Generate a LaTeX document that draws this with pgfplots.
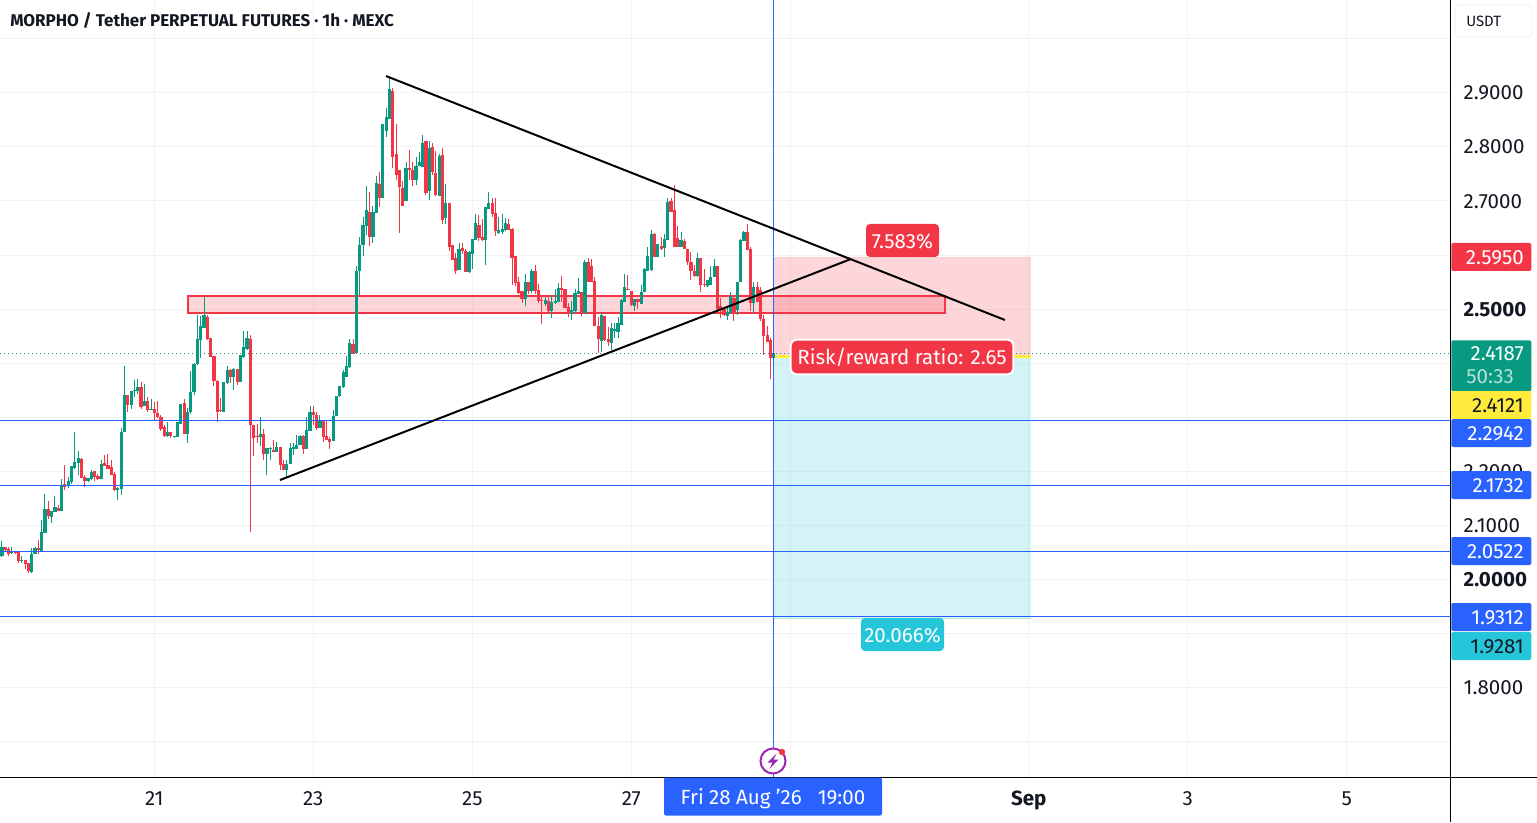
\documentclass[border=0pt]{standalone}
\usepackage{pgfplots}
\usepackage{pgfplotstable}
\pgfplotsset{compat=1.18}
\usepackage{fontspec}
\setmainfont{Fira Sans}
\definecolor{cgreen}{HTML}{089981}
\definecolor{cred}{HTML}{F23645}
\definecolor{cblue}{HTML}{2962FF}
\definecolor{ccyan}{HTML}{26C6DA}
\definecolor{cyell}{HTML}{FFEB3B}
\definecolor{cgrid}{HTML}{F2F3F5}
\definecolor{cpurple}{HTML}{9C27B0}
\definecolor{ctext}{HTML}{131722}
% hour index t = hours since 19 Aug 00:00
\pgfplotstableread{
t o h l c
2 2.043 2.071 2.042 2.060
5 2.049 2.060 2.048 2.053
8 2.034 2.043 2.031 2.036
11 2.014 2.059 2.013 2.048
12 2.048 2.061 2.047 2.058
14 2.052 2.110 2.051 2.088
15 2.086 2.158 2.086 2.130
17 2.116 2.127 2.105 2.127
18 2.125 2.154 2.125 2.134
20 2.127 2.186 2.127 2.175
22 2.173 2.190 2.169 2.183
23 2.181 2.210 2.177 2.210
24 2.206 2.273 2.204 2.217
25 2.216 2.238 2.193 2.225
28 2.182 2.188 2.180 2.188
29 2.186 2.202 2.184 2.199
32 2.186 2.221 2.186 2.214
37 2.165 2.172 2.147 2.169
38 2.167 2.280 2.156 2.273
39 2.272 2.395 2.272 2.341
41 2.323 2.348 2.315 2.348
42 2.348 2.369 2.338 2.351
43 2.349 2.370 2.344 2.356
45 2.321 2.361 2.321 2.331
47 2.315 2.333 2.314 2.316
52 2.266 2.291 2.264 2.272
54 2.264 2.266 2.262 2.266
55 2.264 2.291 2.264 2.291
56 2.288 2.325 2.288 2.325
58 2.270 2.317 2.253 2.309
59 2.309 2.386 2.307 2.347
60 2.346 2.400 2.341 2.399
61 2.399 2.489 2.397 2.444
62 2.443 2.488 2.410 2.469
63 2.466 2.523 2.466 2.490
69 2.310 2.365 2.310 2.365
70 2.363 2.395 2.362 2.388
72 2.374 2.391 2.351 2.389
74 2.366 2.416 2.366 2.415
75 2.412 2.460 2.409 2.430
76 2.427 2.459 2.425 2.447
80 2.264 2.300 2.247 2.269
82 2.233 2.243 2.193 2.243
83 2.241 2.245 2.221 2.243
85 2.235 2.255 2.235 2.245
88 2.202 2.222 2.190 2.214
89 2.214 2.252 2.214 2.243
90 2.242 2.252 2.230 2.245
91 2.242 2.268 2.241 2.249
92 2.249 2.268 2.248 2.265
94 2.242 2.300 2.242 2.277
95 2.275 2.321 2.275 2.310
98 2.280 2.304 2.280 2.294
102 2.256 2.314 2.256 2.302
103 2.302 2.339 2.302 2.339
104 2.339 2.358 2.338 2.358
105 2.356 2.388 2.355 2.383
106 2.375 2.414 2.375 2.395
107 2.393 2.444 2.391 2.438
109 2.418 2.580 2.418 2.570
110 2.570 2.634 2.526 2.619
111 2.619 2.671 2.599 2.655
112 2.654 2.728 2.637 2.683
114 2.634 2.690 2.623 2.680
115 2.678 2.746 2.678 2.733
117 2.706 2.843 2.706 2.843
118 2.830 2.872 2.819 2.855
119 2.852 2.929 2.852 2.906
124 2.699 2.772 2.699 2.761
127 2.739 2.782 2.730 2.765
128 2.764 2.791 2.764 2.772
129 2.762 2.822 2.762 2.807
131 2.719 2.811 2.702 2.798
134 2.710 2.787 2.710 2.783
136 2.669 2.731 2.657 2.696
140 2.572 2.623 2.572 2.611
143 2.569 2.608 2.566 2.606
144 2.602 2.630 2.575 2.630
145 2.628 2.676 2.628 2.659
148 2.628 2.689 2.581 2.689
149 2.685 2.717 2.685 2.696
152 2.640 2.671 2.638 2.646
153 2.643 2.676 2.639 2.648
154 2.646 2.669 2.645 2.660
160 2.518 2.564 2.505 2.551
162 2.533 2.574 2.529 2.571
166 2.509 2.523 2.505 2.516
168 2.496 2.526 2.484 2.513
169 2.512 2.538 2.509 2.515
170 2.513 2.548 2.513 2.539
174 2.491 2.515 2.480 2.498
175 2.497 2.538 2.492 2.529
176 2.528 2.558 2.528 2.533
178 2.492 2.590 2.491 2.588
183 2.441 2.493 2.421 2.489
186 2.438 2.474 2.425 2.465
187 2.460 2.474 2.446 2.463
188 2.458 2.486 2.446 2.474
189 2.470 2.518 2.470 2.516
190 2.513 2.565 2.513 2.541
193 2.505 2.519 2.496 2.519
195 2.510 2.545 2.510 2.532
196 2.531 2.576 2.531 2.574
197 2.571 2.614 2.571 2.598
198 2.573 2.646 2.571 2.639
200 2.597 2.620 2.596 2.620
202 2.613 2.639 2.597 2.629
203 2.628 2.706 2.628 2.698
207 2.615 2.643 2.615 2.627
212 2.562 2.603 2.560 2.594
215 2.542 2.554 2.540 2.553
216 2.545 2.580 2.545 2.560
217 2.560 2.592 2.560 2.579
221 2.487 2.505 2.480 2.495
222 2.493 2.531 2.493 2.525
224 2.499 2.551 2.489 2.551
225 2.551 2.629 2.551 2.628
226 2.626 2.645 2.626 2.643
229 2.511 2.551 2.493 2.540
235 2.409 2.4187 2.409 2.4187
}\upt
\pgfplotstableread{
t o h l c
1 2.076 2.076 2.038 2.040
3 2.060 2.060 2.051 2.054
4 2.057 2.060 2.043 2.048
6 2.051 2.051 2.048 2.049
7 2.051 2.051 2.031 2.034
9 2.036 2.036 2.019 2.028
10 2.030 2.030 2.012 2.015
13 2.058 2.073 2.047 2.054
16 2.130 2.146 2.112 2.117
19 2.133 2.138 2.127 2.127
21 2.177 2.212 2.165 2.172
26 2.223 2.225 2.188 2.188
27 2.189 2.193 2.172 2.182
30 2.200 2.200 2.183 2.189
31 2.191 2.195 2.184 2.186
33 2.215 2.230 2.210 2.210
34 2.211 2.232 2.204 2.204
35 2.208 2.222 2.194 2.194
36 2.195 2.198 2.164 2.165
40 2.341 2.341 2.310 2.323
44 2.356 2.365 2.315 2.319
46 2.331 2.338 2.309 2.314
48 2.315 2.329 2.295 2.308
49 2.308 2.330 2.298 2.300
50 2.301 2.304 2.275 2.278
51 2.282 2.286 2.264 2.266
53 2.272 2.272 2.261 2.266
57 2.326 2.333 2.270 2.270
64 2.486 2.490 2.443 2.444
65 2.446 2.447 2.412 2.412
66 2.414 2.414 2.357 2.367
67 2.367 2.369 2.292 2.310
68 2.314 2.336 2.309 2.311
71 2.388 2.389 2.363 2.374
73 2.389 2.389 2.360 2.366
77 2.445 2.452 2.088 2.285
78 2.285 2.285 2.228 2.262
79 2.265 2.287 2.252 2.263
81 2.269 2.278 2.221 2.233
84 2.239 2.258 2.235 2.235
86 2.245 2.245 2.202 2.212
87 2.214 2.222 2.202 2.202
93 2.265 2.267 2.232 2.242
96 2.310 2.320 2.286 2.304
97 2.304 2.309 2.277 2.280
99 2.294 2.294 2.255 2.264
100 2.266 2.295 2.258 2.258
101 2.260 2.264 2.242 2.254
108 2.436 2.444 2.417 2.417
113 2.680 2.717 2.617 2.634
116 2.731 2.754 2.688 2.706
120 2.904 2.909 2.760 2.781
121 2.787 2.843 2.738 2.747
122 2.757 2.757 2.641 2.725
123 2.724 2.736 2.690 2.691
125 2.761 2.794 2.738 2.757
126 2.757 2.772 2.727 2.738
130 2.810 2.811 2.711 2.715
132 2.799 2.807 2.748 2.754
133 2.752 2.793 2.710 2.711
135 2.785 2.798 2.657 2.665
137 2.696 2.696 2.608 2.615
138 2.619 2.619 2.591 2.591
139 2.594 2.603 2.565 2.571
141 2.613 2.622 2.602 2.608
142 2.607 2.612 2.569 2.569
146 2.656 2.674 2.625 2.632
147 2.634 2.667 2.625 2.627
150 2.696 2.706 2.671 2.676
151 2.677 2.706 2.636 2.644
155 2.657 2.666 2.647 2.647
156 2.649 2.650 2.544 2.594
157 2.598 2.598 2.542 2.548
158 2.550 2.560 2.528 2.530
159 2.533 2.533 2.512 2.518
161 2.551 2.551 2.528 2.533
163 2.570 2.581 2.528 2.533
164 2.535 2.547 2.512 2.515
165 2.516 2.527 2.472 2.515
167 2.515 2.524 2.495 2.496
171 2.539 2.562 2.513 2.536
172 2.537 2.537 2.502 2.502
173 2.504 2.511 2.485 2.492
177 2.531 2.531 2.487 2.492
179 2.587 2.594 2.550 2.551
180 2.579 2.592 2.550 2.551
181 2.552 2.559 2.469 2.469
182 2.469 2.486 2.418 2.444
184 2.487 2.487 2.441 2.443
185 2.445 2.467 2.431 2.439
191 2.538 2.563 2.535 2.536
192 2.533 2.533 2.505 2.507
194 2.518 2.518 2.500 2.513
199 2.639 2.640 2.596 2.597
201 2.617 2.634 2.609 2.612
204 2.699 2.706 2.680 2.680
205 2.683 2.729 2.614 2.614
206 2.631 2.653 2.614 2.615
208 2.626 2.629 2.611 2.611
209 2.611 2.612 2.582 2.587
210 2.587 2.605 2.554 2.570
211 2.571 2.582 2.560 2.562
213 2.594 2.595 2.531 2.544
214 2.547 2.574 2.540 2.546
218 2.579 2.579 2.493 2.500
219 2.506 2.521 2.484 2.498
220 2.500 2.500 2.487 2.489
223 2.521 2.527 2.478 2.493
227 2.642 2.657 2.609 2.609
228 2.611 2.614 2.496 2.511
230 2.540 2.550 2.513 2.513
231 2.535 2.541 2.478 2.481
232 2.482 2.490 2.416 2.451
233 2.452 2.469 2.440 2.440
234 2.442 2.447 2.371 2.409
}\downt
\newcommand{\fs}[1]{\fontsize{#1}{#1}\selectfont}
\newcommand{\ptag}[4]{% y px, fill, text colour, label
  \node[fill=#2,anchor=west,minimum width=60pt,inner sep=0pt,minimum height=21pt,rounded corners=1.5pt] at (1451,#1) {};
  \node[text=#3,anchor=east,inner sep=0pt] at (1524,#1+1) {\fs{15.4}#4};}
\begin{document}
\begin{tikzpicture}
\fill[white] (0,-33.75pt) rectangle (1152.75pt,582.75pt);
\path[use as bounding box] (0,-33.75pt) rectangle (1152.75pt,582.75pt);
\begin{axis}[
  scale only axis, width=1087.5pt, height=582.75pt,
  xmin=19.059, xmax=37.298, ymin=1.6351, ymax=3.0714,
  clip=false,
  axis x line*=bottom, axis y line*=right,
  axis line style={black,line width=0.75pt,-},
  tick style={draw=none}, major tick length=0pt,
  grid=major, grid style={cgrid,line width=0.75pt},
  xtick={21,23,25,27,29,32,34,36},
  xticklabels={21,23,25,27,,\textbf{Sep},3,5},
  ytick={1.7,1.8,1.9,2.0,2.1,2.2,2.3,2.4,2.5,2.6,2.7,2.8,2.9,3.0},
  yticklabels={,1.8000,,\textbf{2.0000},2.1000,2.2000,,,\textbf{2.5000},,2.7000,2.8000,2.9000,},
  yticklabel style={anchor=west,xshift=6.75pt,yshift=-0.25pt,font=\fs{15.4},text=ctext},
  xticklabel style={anchor=base,yshift=-21pt,font=\fs{15.4},text=ctext},
]
% position tool
\fill[cred,opacity=0.2] (axis cs:28.79,2.4121) rectangle (axis cs:32.03,2.5950);
\fill[ccyan,opacity=0.2] (axis cs:28.79,1.9281) rectangle (axis cs:32.03,2.4121);
\draw[cred,opacity=0.25,line width=0.75pt] (axis cs:28.79,2.5950) -- (axis cs:32.03,2.5950);
\draw[ccyan,opacity=0.3,line width=0.75pt] (axis cs:28.79,1.9281) -- (axis cs:32.03,1.9281);
\draw[cyell,line width=2pt] (axis cs:28.79,2.4121) -- (axis cs:32.03,2.4121);
% resistance zone
\draw[cred,line width=1.5pt,fill=cred,fill opacity=0.2] (axis cs:21.424,2.4928) rectangle (axis cs:30.946,2.5242);
% wicks and bodies
\addplot[draw=none,no marks,forget plot,error bars/.cd,y dir=plus,y explicit,error mark=none,
  error bar style={cgreen,line width=0.75pt}]
  table[x expr=19+\thisrow{t}/24,y=l,y error plus expr=\thisrow{h}-\thisrow{l}]{\upt};
\addplot[draw=none,no marks,forget plot,error bars/.cd,y dir=plus,y explicit,error mark=none,
  error bar style={cgreen,line width=2.4pt}]
  table[x expr=19+\thisrow{t}/24,y=o,y error plus expr=\thisrow{c}-\thisrow{o}]{\upt};
\addplot[draw=none,no marks,forget plot,error bars/.cd,y dir=plus,y explicit,error mark=none,
  error bar style={cred,line width=0.75pt}]
  table[x expr=19+\thisrow{t}/24,y=l,y error plus expr=\thisrow{h}-\thisrow{l}]{\downt};
\addplot[draw=none,no marks,forget plot,error bars/.cd,y dir=plus,y explicit,error mark=none,
  error bar style={cred,line width=2.4pt}]
  table[x expr=19+\thisrow{t}/24,y=c,y error plus expr=\thisrow{o}-\thisrow{c}]{\downt};
% levels
\addplot[cblue,line width=0.75pt,forget plot] coordinates {(19.059,2.2942) (37.298,2.2942)};
\addplot[cblue,line width=0.75pt,forget plot] coordinates {(19.059,2.1732) (37.298,2.1732)};
\addplot[cblue,line width=0.75pt,forget plot] coordinates {(19.059,2.0522) (37.298,2.0522)};
\addplot[cblue,line width=0.75pt,forget plot] coordinates {(19.059,1.9312) (37.298,1.9312)};
\addplot[cgreen,line width=0.75pt,dash pattern=on 0.9pt off 2.1pt,forget plot] coordinates {(19.059,2.4187) (37.298,2.4187)};
\addplot[cblue,line width=0.75pt,forget plot] coordinates {(28.79,1.6351) (28.79,3.0714)};
% trend lines
\addplot[black,line width=1.5pt,forget plot] coordinates {(23.914,2.9309) (31.699,2.4799)};
\addplot[black,line width=1.5pt,forget plot] coordinates {(22.581,2.1841) (29.763,2.5926)};
\end{axis}
\begin{scope}[x=0.75pt,y=-0.75pt,yshift=582.75pt]
\draw[black,line width=0.75pt] (1450,777) -- (1537,777);
\draw[black,line width=0.75pt] (1450,777) -- (1450,822);
\node[anchor=west,inner sep=0pt,text=ctext] at (10,21) {\fs{12.75}\bfseries MORPHO / Tether PERPETUAL FUTURES · 1h · MEXC};
\draw[cgrid,fill=white,line width=0.75pt,rounded corners=3pt] (1455,5) rectangle (1532,37);
\node[anchor=west,inner sep=0pt,text=ctext] at (1466,21) {\fs{11.2}USDT};
\ptag{257}{cred}{white}{2.5950}
\node[fill=cgreen,anchor=north west,minimum width=60pt,minimum height=38.25pt,inner sep=0pt,rounded corners=1.5pt] at (1451,340) {};
\node[anchor=east,inner sep=0pt,text=white] at (1524,354) {\fs{15.4}2.4187};
\node[anchor=east,inner sep=0pt,text=white,opacity=0.7] at (1514,377) {\fs{15.4}50:33};
\ptag{405}{cyell}{ctext}{2.4121}
\ptag{433}{cblue}{white}{2.2942}
\ptag{485}{cblue}{white}{2.1732}
\ptag{551}{cblue}{white}{2.0522}
\ptag{617}{cblue}{white}{1.9312}
\ptag{646}{ccyan}{ctext}{1.9281}
\node[fill=cred,rounded corners=3pt,inner sep=0pt,minimum width=54.75pt,minimum height=24.75pt] at (902.5,240.5) {};
\node[text=white,inner sep=0pt] at (902.5,241.5) {\fs{15.4}7.583\%};
\node[fill=cred,draw=white,line width=1.5pt,text=white,rounded corners=4pt,inner sep=0pt,minimum width=167pt,minimum height=26pt] at (902,357) {\fs{15.4}Risk/reward ratio: 2.65};
\node[fill=ccyan,rounded corners=3pt,inner sep=0pt,minimum width=62.25pt,minimum height=24.75pt] at (902.5,634.5) {};
\node[text=white,inner sep=0pt] at (902.5,635.5) {\fs{15.4}20.066\%};
\node[fill=cblue,rounded corners=1.5pt,inner sep=0pt,minimum width=163.5pt,minimum height=28.5pt] at (773,796.5) {};
\node[text=white,inner sep=0pt] at (773,798.5) {\fs{15.4}Fri 28 Aug '26\hspace{12pt}19:00};
\draw[cpurple,fill=white,line width=1.5pt] (773,761) circle [radius=12.5];
\fill[cpurple] (776.5,753.5) -- (767.5,762.5) -- (772.5,762.5) -- (769.5,769) -- (778.5,759.5) -- (773.5,759.5) -- cycle;
\fill[cred] (782,752) circle [radius=3.2];
\end{scope}
\end{tikzpicture}
\end{document}
